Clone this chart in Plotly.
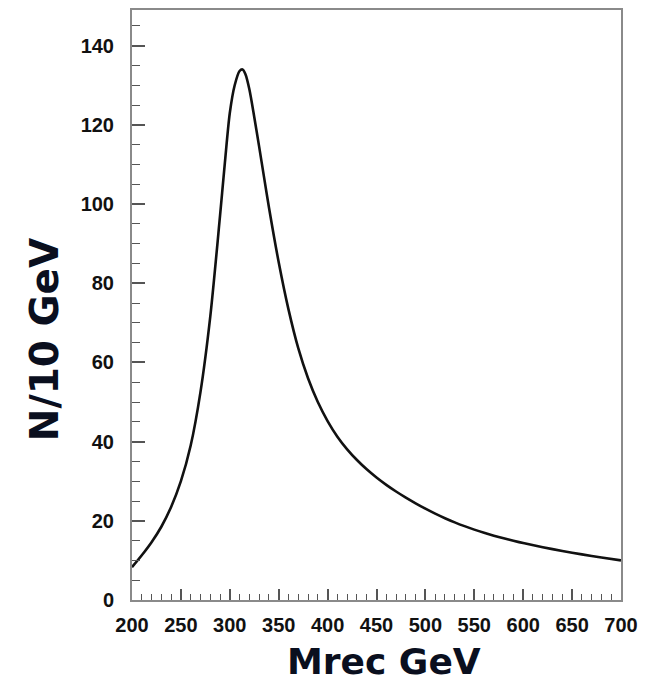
import plotly.graph_objects as go

# Recoil mass spectrum (events per 10 GeV)
mrec_gev = [200, 210, 220, 230, 240, 250, 260, 270, 280, 290, 295, 300, 305,
            310, 313, 316, 320, 325, 330, 335, 340, 350, 360, 370, 380, 390,
            400, 410, 420, 430, 440, 450, 460, 470, 480, 490, 500, 510, 520,
            530, 540, 550, 560, 570, 580, 590, 600, 620, 640, 660, 680, 700]
events_per_10gev = [8.3, 11.3, 14.6, 18.5, 23.5, 30.0, 39.0, 52.5, 71.5, 97.0,
                    110.5, 123.0, 130.0, 133.6, 134.0, 132.8, 129.0, 122.0,
                    114.5, 106.8, 99.2, 85.3, 73.4, 63.6, 56.0, 50.0, 45.2,
                    41.25, 38.05, 35.35, 33.0, 30.93, 29.08, 27.4, 25.86,
                    24.43, 23.07, 21.81, 20.66, 19.61, 18.65, 17.77, 16.97,
                    16.24, 15.57, 14.95, 14.38, 13.33, 12.38, 11.52, 10.73,
                    10.01]

x_range = [200, 700]
y_range = [0, 149]
x_tick_vals = [200, 250, 300, 350, 400, 450, 500, 550, 600, 650, 700]
y_tick_vals = [0, 20, 40, 60, 80, 100, 120, 140]

fig = go.Figure()
fig.add_trace(go.Scatter(
    x=mrec_gev, y=events_per_10gev, mode="lines",
    line=dict(color="#111111", width=2.6, shape="spline", smoothing=0.8),
    showlegend=False, hoverinfo="skip",
))

axis_line = "#8a8a8a"
tick_font = dict(family="Liberation Sans, Arial, sans-serif", size=20,
                 color="#111111", weight="bold")

fig.update_xaxes(
    range=x_range, tickvals=x_tick_vals, ticks="inside", ticklen=11,
    tickwidth=1.5, tickcolor="#555555", showline=True, linecolor=axis_line,
    linewidth=2, mirror=True, showgrid=False, zeroline=False,
    tickfont=tick_font, ticklabelstandoff=6,
    minor=dict(dtick=10, ticks="inside", ticklen=6, tickwidth=1.2,
               tickcolor="#555555", showgrid=False),
)
fig.update_yaxes(
    range=y_range, tickvals=y_tick_vals, ticks="inside", ticklen=13,
    tickwidth=1.5, tickcolor="#555555", showline=True, linecolor=axis_line,
    linewidth=2, mirror=True, showgrid=False, zeroline=False,
    tickfont=tick_font, ticklabelstandoff=12,
    minor=dict(dtick=5, ticks="inside", ticklen=8, tickwidth=1.2,
               tickcolor="#555555", showgrid=False),
)

title_color = "#0a0f1e"
fig.add_annotation(
    text="N/10 GeV", xref="paper", yref="paper", x=-0.18, y=0.442,
    xanchor="center", yanchor="middle", textangle=-90, showarrow=False,
    font=dict(family="DejaVu Sans, sans-serif", size=39, color=title_color,
              weight="bold"),
)
fig.add_annotation(
    text="Mrec GeV", xref="paper", yref="paper", x=0.515, y=-0.1045,
    xanchor="center", yanchor="middle", showarrow=False,
    font=dict(family="DejaVu Sans, sans-serif", size=36, color=title_color,
              weight="bold"),
)

fig.update_layout(
    width=650, height=685,
    margin=dict(l=132, r=29, t=8, b=85),
    paper_bgcolor="white", plot_bgcolor="white",
)

fig.write_html("out.html")
